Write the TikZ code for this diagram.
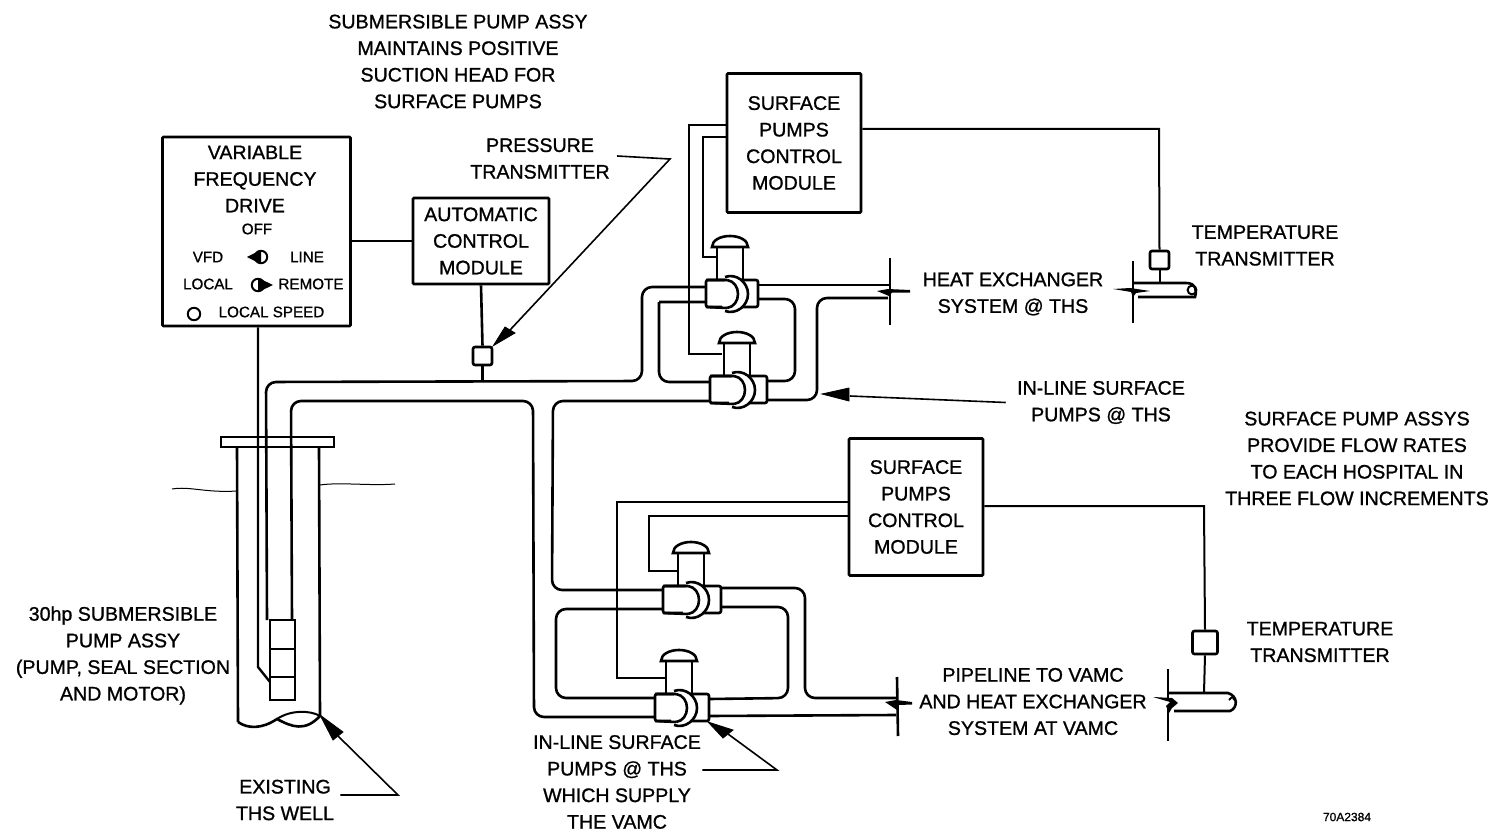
\documentclass[tikz,border=0pt]{standalone}
\usepackage{fontspec}
\setmainfont[RawFeature={embolden=1}]{Liberation Sans}
\tikzset{
  x=0.5pt,y=-0.5pt,
  lbl/.style={inner sep=0pt,align=center,font=\fontsize{9.8}{13.3}\selectfont},
  tiny/.style={inner sep=0pt,align=center,font=\fontsize{7.6}{13}\selectfont},
  boxed/.style={draw=black,line width=1.3pt,fill=white,inner sep=0pt,align=center,font=\fontsize{9.8}{13.3}\selectfont,rounded corners=0.5pt},
  pipe/.style={draw=black,line width=1.3pt,rounded corners=5pt},
  wire/.style={draw=black,line width=1pt},
  thinwire/.style={draw=black,line width=0.5pt},
  head/.style={fill=black,draw=black,line width=0.4pt},
  part/.style={draw=black,line width=1.3pt,fill=white,rounded corners=1pt},
  cutline/.style={draw=black,line width=1.3pt},
  knob/.style={draw=black,line width=1pt,circle,minimum size=6.2pt,inner sep=0pt},
}
\newcommand{\pumpunit}[4]{%
  \begin{scope}[shift={(#1,#2)}]
    \draw[part,rounded corners=0pt] (-13,-48) rectangle (13,-10);
    \draw[part,rounded corners=0pt] (-18,-47) .. controls (-18,-54) and (-9,-58) .. (0,-58) .. controls (9,-58) and (18,-54) .. (18,-47) -- cycle;
    \draw[part] (#3,-14) rectangle (#4,13);
    \draw[part,rounded corners=0pt] (-5,-17) .. controls (6,-21) and (18,-12) .. (18,0) .. controls (18,12) and (6,21) .. (-5,17);
    \fill[white] (-8,-12.5) rectangle (0,12.5);
    \draw[part,rounded corners=0pt] (-3,-14) .. controls (4,-13) and (8,-7) .. (8,0) .. controls (8,7) and (4,13) .. (-3,14);
    \draw[line width=1.3pt] (#3,-14) -- (-3,-14) (#3,13) -- (-3,14);
  \end{scope}}
\begin{document}
\begin{tikzpicture}
\useasboundingbox (0,0) rectangle (1506,840);
\fill[white] (0,0) rectangle (1506,840);

% well
\draw[cutline] (221,437) rectangle (334,447);
\draw[cutline] (237,447) -- (238,722);
\draw[cutline] (319,447) -- (320,716);
\draw[cutline] (238,722) .. controls (248,729) and (262,729) .. (277,719) .. controls (292,727) and (305,732) .. (320,716);
\draw[wire] (277,719) .. controls (290,710) and (310,710) .. (320,716);
\draw[thinwire] (172,489) .. controls (190,486) and (205,493) .. (237,491);
\draw[thinwire] (320,485) .. controls (340,482) and (370,486) .. (395,484);

% pump in well
\node[draw=black,line width=1pt,minimum width=12.5pt,minimum height=40pt,inner sep=0pt] (wellpump) at (282.5,660) {};
\draw[wire] (270,649) -- (295,649) (270,677) -- (295,677);

% pipes from well
\draw[pipe] (267,620) -- (266,382) -- (642,381) -- (642,287) -- (706,287);
\draw[pipe] (292,620) -- (291,401) -- (533,401) -- (534,717) -- (655,717);
\draw[pipe] (659,302) -- (706,302) (659,302) -- (659,382) -- (709,382);
\draw[pipe] (709,401) -- (553,401) -- (552,590) -- (662,590);
\draw[pipe] (662,609) -- (556,609) -- (556,698) -- (655,698);
\draw[pipe] (758,299) -- (795,299) -- (795,381) -- (767,381);
\draw[pipe] (767,400) -- (817,400) -- (817,298) -- (888,298);
\draw[cutline] (758,285) -- (889,285);
\draw[pipe] (721,588) -- (805,588) -- (805,698) -- (896,698);
\draw[pipe] (721,607) -- (788,607) -- (788,698) -- (709,699);
\draw[cutline] (709,716) -- (896,715);

% boxes
\node[boxed,minimum width=94pt,minimum height=94.5pt] (vfd) at (256.5,231.5) {};
\node[boxed,minimum width=68pt,minimum height=43pt] (acm) at (481,241) {AUTOMATIC\\CONTROL\\MODULE};
\node[boxed,minimum width=67pt,minimum height=69.5pt] (spcma) at (794,143) {SURFACE\\PUMPS\\CONTROL\\MODULE};
\node[boxed,minimum width=67pt,minimum height=68.5pt] (spcmb) at (916,507) {SURFACE\\PUMPS\\CONTROL\\MODULE};
\node[part,minimum width=9.5pt,minimum height=9pt,inner sep=0pt] (ptx) at (482.5,356) {};
\node[part,minimum width=9.5pt,minimum height=9pt,inner sep=0pt] (ttxa) at (1159.5,260) {};
\node[part,minimum width=12.5pt,minimum height=11.5pt,inner sep=0pt] (ttxb) at (1205,642.5) {};

% wires
\coordinate (wA) at (689,125); \coordinate (wB) at (689,354); \coordinate (wC) at (722,354);
\coordinate (wD) at (703,137); \coordinate (wE) at (703,257); \coordinate (wF) at (718,257);
\coordinate (wG) at (617,502); \coordinate (wH) at (617,678); \coordinate (wI) at (667,678);
\coordinate (wJ) at (649,516); \coordinate (wK) at (649,571); \coordinate (wL) at (678,571);
\coordinate (tA) at (1159,129); \coordinate (tB) at (1204,506); \coordinate (tC) at (1159.5,284); \coordinate (tD) at (1204,693);
\coordinate (pC) at (482.5,381);
\draw[wire] (vfd.east |- acm.west) -- (acm.west);
\draw[wire,line width=1.3pt] (acm.south) -- (ptx.north);
\draw[wire,line width=1.2pt] (ptx.south) -- (pC);
\draw[wire,line width=1.2pt] (vfd.south -| 258,0) -- (258,667) -- (270,682);
\draw[wire] (spcma.west |- wA) -- (wA) -- (wB) -- (wC);
\draw[wire] (spcma.west |- wD) -- (wD) -- (wE) -- (wF);
\draw[wire] (spcmb.west |- wG) -- (wG) -- (wH) -- (wI);
\draw[wire] (spcmb.west |- wJ) -- (wJ) -- (wK) -- (wL);
\draw[wire] (spcma.east |- tA) -- (tA) -- (ttxa.north);
\draw[wire] (ttxa.south) -- (tC);
\draw[wire] (spcmb.east |- tB) -- (tB) -- (ttxb.north);
\draw[wire] (ttxb.south) -- (tD);

% pumps
\pumpunit{730}{294}{-24}{28}
\pumpunit{737}{390}{-27}{30}
\pumpunit{691}{600}{-28}{30}
\pumpunit{679}{708}{-24}{30}

% pipe cuts, upper
\draw[cutline] (890,258) -- (890,325);
\fill (877,291) -- (888,289) -- (910,290) -- (910,292.5) -- (892,292.5) -- (889,296) -- cycle;
\draw[cutline] (1133,261) -- (1133,323);
\fill (1113,289) -- (1130,288) -- (1150,291) -- (1136,293) -- (1133,297) -- (1131,292) -- cycle;
\draw[cutline] (1134,283) -- (1186,283) .. controls (1196,283) and (1197,290) .. (1195,297) -- (1138,297);
\draw[wire] (1192,290) circle[radius=2.2pt];
% pipe cuts, lower
\draw[cutline] (897,677) -- (898,736);
\fill (885,702) -- (896,700) -- (912,702) -- (912,704.5) -- (899,705) -- (897,710) -- cycle;
\draw[cutline] (1168,669) -- (1168,700) (1168,707) -- (1168,741);
\fill (1153,697) -- (1172,698) -- (1178,703) -- (1172,708) -- (1169,713) -- (1166,706) -- (1170,702) -- cycle;
\draw[cutline] (1168,693) -- (1228,693) .. controls (1238,696) and (1238,708) .. (1230,711) -- (1174,711);
\draw[wire] (1229,700) .. controls (1233,696) and (1233,696) .. (1234,700);

% labels
\node[lbl] (t1) at (458,61.5) {SUBMERSIBLE PUMP ASSY\\MAINTAINS POSITIVE\\SUCTION HEAD FOR\\SURFACE PUMPS};
\node[lbl] (t2) at (540,158.5) {PRESSURE\\TRANSMITTER};
\node[lbl] (t3) at (255,179) {VARIABLE\\FREQUENCY\\DRIVE};
\node[tiny] (t4) at (257,229) {OFF};
\node[tiny] (t5) at (208,257) {VFD};
\node[tiny] (t6) at (307,257) {LINE};
\node[tiny] (t7) at (208,284) {LOCAL};
\node[tiny] (t8) at (311,284) {REMOTE};
\node[tiny] (t9) at (271.5,312) {LOCAL SPEED};
\node[knob] (k1) at (261,257) {};
\fill (k1.north) -- (247,257) -- (k1.south) -- cycle;
\node[knob] (k2) at (258,285) {};
\fill (k2.north) -- (273,285) -- (k2.south) -- cycle;
\node[knob] (k3) at (194,314) {};
\node[lbl] (t10) at (1013,294) {HEAT EXCHANGER\\SYSTEM @ THS};
\node[lbl] (t11) at (1265,245.5) {TEMPERATURE\\TRANSMITTER};
\node[lbl] (t12) at (1101,402.5) {IN-LINE SURFACE\\PUMPS @ THS};
\node[lbl] (t13) at (1357,458.5) {SURFACE PUMP ASSYS\\PROVIDE FLOW RATES\\TO EACH HOSPITAL IN\\THREE FLOW INCREMENTS};
\node[lbl] (t15) at (1320,642) {TEMPERATURE\\TRANSMITTER};
\node[lbl] (t16) at (1033,701.5) {PIPELINE TO VAMC\\AND HEAT EXCHANGER\\SYSTEM AT VAMC};
\node[lbl] (t17) at (123,655.5) {30hp SUBMERSIBLE\\PUMP ASSY\\(PUMP, SEAL SECTION\\AND MOTOR)};
\node[lbl] (t18) at (285,800) {EXISTING\\THS WELL};
\node[lbl] (t19) at (617,782) {IN-LINE SURFACE\\PUMPS @ THS\\WHICH SUPPLY\\THE VAMC};
\node[inner sep=0pt,font=\fontsize{6}{7}\selectfont] (t22) at (1347,817) {70A2384};

% leader arrows
\coordinate (a1) at (670,159); \coordinate (a2) at (777,770); \coordinate (a3) at (398,795);
\draw[wire,line width=0.8pt] (t2.east |- 0,156) ++(7,0) -- (a1) -- (510,330);
\fill[head] (ptx.north east) -- (505,327) -- (515,333) -- cycle;
\draw[wire,line width=0.8pt] (t12.west) ++(-11,0) -- (850,396);
\fill[head] (822,394) -- (849,388) -- (849,401) -- cycle;
\draw[wire,line width=0.8pt] (t19.east |- 0,770) ++(1,0) -- (a2) -- (728,734);
\fill[head] (708,722) -- (733,730) -- (723,738) -- cycle;
\draw[wire,line width=0.8pt] (t18.east) ++(6,-5) -- (a3) -- (338,736);
\fill[head] (320,715) -- (343,732) -- (333,740) -- cycle;
\end{tikzpicture}
\end{document}
